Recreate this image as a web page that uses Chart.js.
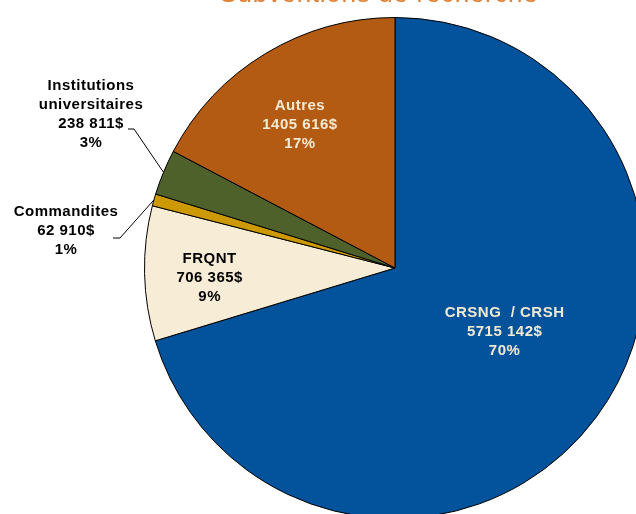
<!DOCTYPE html>
<html>
<head>
<meta charset="utf-8">
<script src="https://cdn.jsdelivr.net/npm/chart.js@4.4.0/dist/chart.umd.min.js"></script>
<style>
  html, body { margin: 0; padding: 0; background: #fff; overflow: hidden; }
  body { width: 636px; height: 514px; position: relative; }
  #wrap { position: absolute; left: 0; top: 0; width: 790px; height: 536px; }
</style>
</head>
<body>
<div id="wrap"><canvas id="pieChart"></canvas></div>
<script>
// Subventions de recherche (values in $)
const categories = ['CRSNG  / CRSH', 'FRQNT', 'Commandites', 'Institutions universitaires', 'Autres'];
const amounts = [5715142, 706365, 62910, 238811, 1405616];
const amountLabels = ['5715 142$', '706 365$', '62 910$', '238 811$', '1405 616$'];
const percentLabels = ['70%', '9%', '1%', '3%', '17%'];
const colors = ['#03529c', '#f7edd6', '#cc9900', '#4f612b', '#b35b12'];

// label layout: inside labels sit along the slice's middle angle,
// outside labels get a text block + leader line to the rim
const labelLayout = [
  { inside: true, frac: 0.5, dx: 9, dy: -11, color: '#f3ead2', lines: ['CRSNG  / CRSH'] },
  { inside: true, frac: 0.74, dx: 0, dy: 6, color: '#000', lines: ['FRQNT'] },
  { inside: false, x: 66, y: 212, elbow: [[113, 238], [120, 238]], color: '#000', lines: ['Commandites'] },
  { inside: false, x: 91, y: 86, elbow: [[128, 129], [134, 129]], color: '#000', lines: ['Institutions', 'universitaires'] },
  { inside: true, frac: 0.68, dx: -7, dy: 3, color: '#f3ead2', lines: ['Autres'] }
];

const LINE_H = 19;

const sliceLabels = {
  id: 'sliceLabels',
  afterDraw(chart) {
    const ctx = chart.ctx;
    const meta = chart.getDatasetMeta(0);
    ctx.save();
    ctx.font = 'bold 15px "Liberation Sans", Arial, sans-serif';
    ctx.letterSpacing = '0.5px';
    ctx.textAlign = 'center';
    ctx.textBaseline = 'middle';
    meta.data.forEach((arc, i) => {
      const lay = labelLayout[i];
      const mid = (arc.startAngle + arc.endAngle) / 2;
      const lines = lay.lines.concat([amountLabels[i], percentLabels[i]]);
      let cx, cy;
      if (lay.inside) {
        const r = arc.outerRadius * lay.frac;
        cx = arc.x + Math.cos(mid) * r + lay.dx;
        cy = arc.y + Math.sin(mid) * r + lay.dy - LINE_H * (lines.length - 1) / 2;
      } else {
        cx = lay.x;
        cy = lay.y;
        // leader line from text to the rim
        ctx.strokeStyle = '#000';
        ctx.lineWidth = 1;
        ctx.beginPath();
        ctx.moveTo(lay.elbow[0][0], lay.elbow[0][1]);
        ctx.lineTo(lay.elbow[1][0], lay.elbow[1][1]);
        ctx.lineTo(arc.x + Math.cos(mid) * arc.outerRadius, arc.y + Math.sin(mid) * arc.outerRadius);
        ctx.stroke();
      }
      ctx.fillStyle = lay.color;
      lines.forEach((t, k) => ctx.fillText(t, cx, cy + k * LINE_H));
    });

    // title, mostly cut off by the top edge
    ctx.font = '26px "Liberation Sans", Arial, sans-serif';
    ctx.letterSpacing = '0.7px';
    ctx.fillStyle = '#e28236';
    ctx.textBaseline = 'alphabetic';
    ctx.fillText('Subventions de recherche', 379, 2);
    ctx.restore();
  }
};

new Chart(document.getElementById('pieChart'), {
  type: 'pie',
  data: {
    labels: categories,
    datasets: [{
      data: amounts,
      backgroundColor: colors,
      borderColor: '#000',
      borderWidth: 1
    }]
  },
  options: {
    responsive: true,
    maintainAspectRatio: false,
    animation: false,
    events: [],
    layout: { padding: { top: 17, bottom: 17 } },
    plugins: {
      legend: { display: false },
      tooltip: { enabled: false },
      title: { display: false }
    }
  },
  plugins: [sliceLabels]
});
</script>
</body>
</html>
